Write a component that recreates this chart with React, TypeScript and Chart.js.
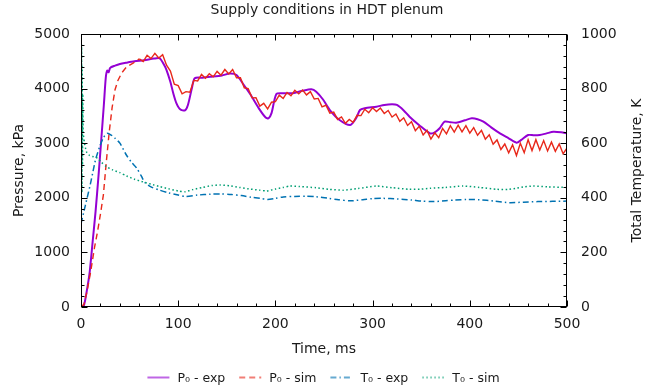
import React, { useEffect, useRef } from 'react';
import { Chart, registerables } from 'chart.js';

Chart.register(...registerables);

const FONT = "'DejaVu Sans', 'Liberation Sans', sans-serif";
const TEXT = '#1a1a1a';

const chartTitle = 'Supply conditions in HDT plenum';
const xTitle = 'Time, ms';
const yTitle = 'Pressure, kPa';
const y2Title = 'Total Temperature, K';
const seriesLabels = ['P\u2080 - exp', 'P\u2080 - sim', 'T\u2080 - exp', 'T\u2080 - sim'];

// P0 - exp (kPa)
const pExpTime = [0, 3, 6, 9, 12, 15, 18, 21, 23.5, 25.5, 27, 28.5, 30, 35, 40, 47, 55, 65, 75, 81, 85, 88, 92, 95, 98, 102, 107, 110, 114, 117, 125, 133, 145, 153, 160, 167, 174, 184, 190, 193, 196, 201, 208, 218, 228, 237, 242, 249, 256, 266, 277, 283, 287, 292, 304, 312, 320, 325, 332, 338, 348, 359, 364, 369, 374, 380, 386, 395, 402, 408, 414, 422, 431, 440, 448, 453, 460, 466, 472, 479, 486, 494, 500];
const pExpValues = [0, 30, 300, 650, 1200, 1750, 2400, 3100, 3700, 4200, 4330, 4300, 4380, 4420, 4450, 4475, 4500, 4520, 4550, 4555, 4450, 4340, 4120, 3910, 3740, 3620, 3600, 3700, 4000, 4190, 4200, 4215, 4240, 4275, 4250, 4080, 3900, 3610, 3470, 3456, 3550, 3900, 3913, 3915, 3960, 3987, 3943, 3800, 3608, 3425, 3333, 3456, 3608, 3639, 3669, 3700, 3712, 3700, 3600, 3486, 3330, 3180, 3200, 3273, 3395, 3385, 3376, 3420, 3456, 3440, 3395, 3290, 3180, 3090, 3010, 3060, 3150, 3145, 3150, 3180, 3210, 3200, 3180];

// P0 - sim (kPa)
const pSimTime = [0, 3, 6, 10, 14, 17, 20, 23, 26, 29, 32, 35, 38, 42, 47, 54,
  60, 64, 68, 72, 76, 80, 84, 88, 92, 96, 100, 104, 108, 112, 116, 120, 124, 128, 132, 136, 140, 144, 148, 152, 156, 160, 164, 168, 172, 176, 180, 184, 188, 192, 196, 200,
  204, 208, 212, 216, 220, 224, 228, 232, 236, 240, 244, 248, 252, 256, 260, 264, 268, 272, 276, 280, 284, 288, 292, 296, 300,
  304, 308, 312, 316, 320, 324, 328, 332, 336, 340, 344, 348, 352, 356, 360, 364, 368, 372, 376, 380, 384, 388, 392, 396, 400,
  404, 408, 412, 416, 420, 424, 428, 432, 436, 440, 444, 448, 452, 456, 460, 464, 468, 472, 476, 480, 484, 488, 492, 496, 500];
const pSimValues = [0, 50, 270, 650, 1100, 1380, 1700, 2050, 2650, 3200, 3650, 3980, 4150, 4290, 4400, 4470,
  4545, 4495, 4610, 4550, 4645, 4560, 4620, 4430, 4320, 4080, 4055, 3905, 3945, 3935, 4150, 4140, 4260, 4190, 4272, 4215, 4315, 4245, 4350, 4270, 4350, 4200, 4200, 4015, 4000, 3830, 3835, 3680, 3730, 3628, 3750, 3760,
  3880, 3820, 3930, 3870, 3970, 3903, 3975, 3885, 3945, 3810, 3820, 3665, 3695, 3550, 3570, 3435, 3480, 3365, 3435, 3380, 3510, 3505, 3622, 3558, 3650,
  3580, 3645, 3545, 3600, 3480, 3535, 3400, 3465, 3325, 3395, 3230, 3310, 3150, 3235, 3075, 3190, 3100, 3270, 3170, 3320, 3205, 3332, 3208, 3320, 3185,
  3285, 3145, 3235, 3075, 3155, 2980, 3060, 2885, 2985, 2825, 2970, 2775, 3000, 2825, 3065, 2865, 3065, 2875, 3048, 2858, 3020, 2850, 2985, 2805, 2915];

// T0 - exp (K)
const tExpTime = [0, 3, 6, 9, 12, 15, 19.5, 23, 27, 31, 35, 40, 47, 52, 57, 62, 66, 72, 81, 90, 100, 108, 120, 133, 143, 155, 165, 175, 184, 192, 200, 208, 220, 232, 242, 255, 265, 277, 290, 300, 311, 325, 340, 350, 362, 375, 385, 397, 410, 425, 441, 455, 470, 485, 500];
const tExpValues = [305, 350, 395, 440, 490, 540, 590, 620, 636, 630, 618, 600, 555, 530, 510, 480, 455, 440, 428, 418, 410, 405, 410, 413, 414, 412, 408, 402, 398, 394, 398, 403, 405, 406, 404, 398, 393, 389, 393, 397, 398, 396, 392, 388, 386, 389, 392, 394, 393, 388, 382, 384, 386, 387, 388];

// T0 - sim (K)
const tSimTime = [0, 0.3, 0.6, 0.9, 1.2, 1.5, 1.8, 2.2, 4, 6, 9, 13, 17, 21, 26, 32, 40, 47, 55, 64, 72, 81, 90, 100, 107, 115, 125, 135, 143, 153, 163, 174, 184, 191, 200, 208, 215, 225, 242, 255, 270, 285, 304, 320, 338, 350, 359, 375, 393, 410, 428, 440, 448, 456, 465, 480, 500];
const tSimValues = [1000, 350, 960, 420, 880, 520, 780, 640, 593, 565, 555, 550, 545, 530, 515, 503, 492, 480, 468, 458, 450, 441, 433, 425, 422, 430, 438, 445, 447, 444, 438, 432, 428, 425, 432, 438, 443, 441, 437, 431, 428, 434, 443, 437, 431, 432, 435, 438, 443, 438, 431, 431, 435, 440, 443, 440, 438];

const zip = (t: number[], v: number[]) => t.map((x, i) => ({ x, y: v[i] }));

const framePlugin = {
  id: 'gnuplotFrame',
  afterDraw(chart: any) {
    const { ctx, chartArea: a, scales } = chart;
    const sx = scales.x, sy = scales.y, sy2 = scales.y2;
    ctx.save();
    ctx.strokeStyle = '#000';
    ctx.lineWidth = 1;
    ctx.setLineDash([]);
    const L = Math.round(a.left) + 0.5, R = Math.round(a.right) - 0.5;
    const T = Math.round(a.top) + 0.5, B = Math.round(a.bottom) - 0.5;
    ctx.beginPath();
    for (let v = 0; v <= 500; v += 20) {
      const p = Math.round(sx.getPixelForValue(v)) + 0.5;
      const len = v % 100 === 0 ? 6 : 3;
      ctx.moveTo(p, B); ctx.lineTo(p, B - len);
      ctx.moveTo(p, T); ctx.lineTo(p, T + len);
    }
    for (let v = 0; v <= 5000; v += 200) {
      const p = Math.round(sy.getPixelForValue(v)) + 0.5;
      const len = v % 1000 === 0 ? 6 : 3;
      ctx.moveTo(L, p); ctx.lineTo(L + len, p);
    }
    for (let v = 0; v <= 1000; v += 40) {
      const p = Math.round(sy2.getPixelForValue(v)) + 0.5;
      const len = v % 200 === 0 ? 6 : 3;
      ctx.moveTo(R, p); ctx.lineTo(R - len, p);
    }
    ctx.stroke();
    ctx.strokeRect(L, T, R - L, B - T);

    // right axis title (reads bottom to top)
    ctx.fillStyle = TEXT;
    ctx.font = `14px ${FONT}`;
    ctx.textAlign = 'center';
    ctx.textBaseline = 'middle';
    ctx.save();
    ctx.translate(637, (a.top + a.bottom) / 2);
    ctx.rotate(-Math.PI / 2);
    ctx.fillText(y2Title, 0, 0);
    ctx.restore();

    // legend
    const ds = chart.data.datasets;
    ctx.font = `12.5px ${FONT}`;
    ctx.textAlign = 'left';
    const lineLen = 22, gapText = 8, gapItem = 14;
    const widths = ds.map((d: any) => lineLen + gapText + ctx.measureText(d.label).width);
    const total = widths.reduce((s: number, w: number) => s + w, 0) + gapItem * (ds.length - 1);
    let x = 323.5 - total / 2;
    const y = 377.5;
    ds.forEach((d: any, i: number) => {
      ctx.save();
      ctx.globalAlpha = 0.6;
      ctx.strokeStyle = d.borderColor;
      ctx.lineWidth = 2;
      ctx.setLineDash(d.borderDash || []);
      ctx.beginPath();
      ctx.moveTo(x, y);
      ctx.lineTo(x + lineLen, y);
      ctx.stroke();
      ctx.restore();
      ctx.fillStyle = TEXT;
      ctx.fillText(d.label, x + lineLen + gapText, y + 1);
      x += widths[i] + gapItem;
    });
    ctx.restore();
  },
};

const plain = (v: any) => String(v);

export default function App() {
  const ref = useRef<HTMLCanvasElement | null>(null);
  useEffect(() => {
    document.body.style.margin = '0';
    if (!ref.current) return;
    const tickFont = { family: FONT, size: 14 };
    const chart = new Chart(ref.current, {
      type: 'line',
      data: {
        datasets: [
          {
            label: seriesLabels[0], data: zip(pExpTime, pExpValues), yAxisID: 'y',
            borderColor: '#9400d3', borderWidth: 2, pointRadius: 0, tension: 0.25, order: 4,
          },
          {
            label: seriesLabels[1], data: zip(pSimTime, pSimValues), yAxisID: 'y',
            borderColor: '#e8281a', borderWidth: 1.4, borderDash: [6, 4], pointRadius: 0, tension: 0, order: 3,
            segment: { borderDash: (c: any) => (c.p0.parsed.x < 56 ? [6, 4] : []) },
          },
          {
            label: seriesLabels[2], data: zip(tExpTime, tExpValues), yAxisID: 'y2',
            borderColor: '#0072b2', borderWidth: 1.5, borderDash: [6, 3, 1.5, 3], pointRadius: 0, tension: 0.25, order: 2,
          },
          {
            label: seriesLabels[3], data: zip(tSimTime, tSimValues), yAxisID: 'y2',
            borderColor: '#009e73', borderWidth: 1.5, borderDash: [1.5, 2.5], pointRadius: 0, tension: 0.2, order: 1,
          },
        ],
      },
      options: {
        responsive: false,
        animation: false,
        devicePixelRatio: 1,
        layout: { padding: 0 },
        plugins: {
          legend: { display: false },
          tooltip: { enabled: false },
          title: {
            display: true, text: chartTitle, color: TEXT,
            font: { family: FONT, size: 14, weight: 'normal', lineHeight: 1 },
            padding: { top: 3, bottom: 17 },
          },
        },
        scales: {
          x: {
            type: 'linear', position: 'bottom', min: 0, max: 500,
            grid: { display: false, drawTicks: false }, border: { display: false },
            ticks: { stepSize: 100, font: tickFont, color: TEXT, padding: 9, maxRotation: 0, callback: plain },
            title: { display: true, text: xTitle, color: TEXT, font: tickFont, padding: { top: 0, bottom: 33.6 } },
            afterFit: (s: any) => { s.height = 84; },
          },
          y: {
            type: 'linear', position: 'left', min: 0, max: 5000,
            grid: { display: false, drawTicks: false }, border: { display: false },
            ticks: { stepSize: 1000, font: tickFont, color: TEXT, padding: 11, callback: plain },
            title: { display: true, text: yTitle, color: TEXT, font: tickFont, padding: { top: 11, bottom: 0 } },
            afterFit: (s: any) => { s.width = 81; },
          },
          y2: {
            type: 'linear', position: 'right', min: 0, max: 1000,
            grid: { display: false, drawTicks: false }, border: { display: false },
            ticks: { stepSize: 200, font: tickFont, color: TEXT, padding: 14, callback: plain },
            title: { display: false },
            afterFit: (s: any) => { s.width = 87; },
          },
        },
      },
      plugins: [framePlugin],
    });
    return () => chart.destroy();
  }, []);
  return (
    <div style={{ width: 654, height: 391 }}>
      <canvas ref={ref} width={654} height={391} />
    </div>
  );
}
